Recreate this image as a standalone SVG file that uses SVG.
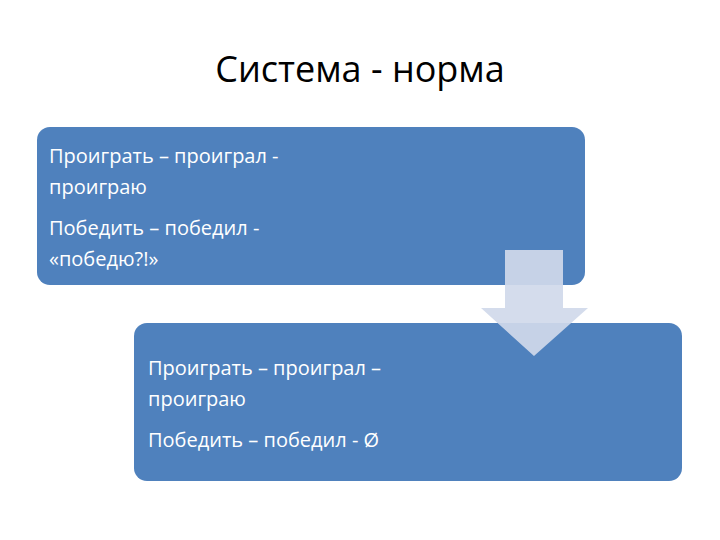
<svg xmlns="http://www.w3.org/2000/svg" width="720" height="540" viewBox="0 0 720 540">
<style>
.box{fill:#4F81BD}
.t{font-family:"Open Sans","Liberation Sans",sans-serif;font-size:20px;fill:#fff}
.title{font-family:"Open Sans","Liberation Sans",sans-serif;font-size:36px;fill:#000}
</style>
<rect width="720" height="540" fill="#fff"/>
<text class="title" x="360" y="82" text-anchor="middle">Система - норма</text>
<g id="box1">
<rect class="box" x="37" y="127" width="548" height="158" rx="13"/>
<text class="t" x="49" y="163">Проиграть – проиграл -</text>
<text class="t" x="49" y="194">проиграю</text>
<text class="t" x="49" y="235">Победить – победил -</text>
<text class="t" x="49" y="266">«победю?!»</text>
</g>
<g id="box2">
<rect class="box" x="134" y="323" width="548" height="158" rx="13"/>
<text class="t" x="148" y="375">Проиграть – проиграл –</text>
<text class="t" x="148" y="406">проиграю</text>
<text class="t" x="148" y="447">Победить – победил  - Ø</text>
</g>
<g id="connectors">
<path d="M505 250H563V308H588L534 356L481 308H505Z" fill="#D0D9EA" fill-opacity="0.92"/>
</g>
</svg>
